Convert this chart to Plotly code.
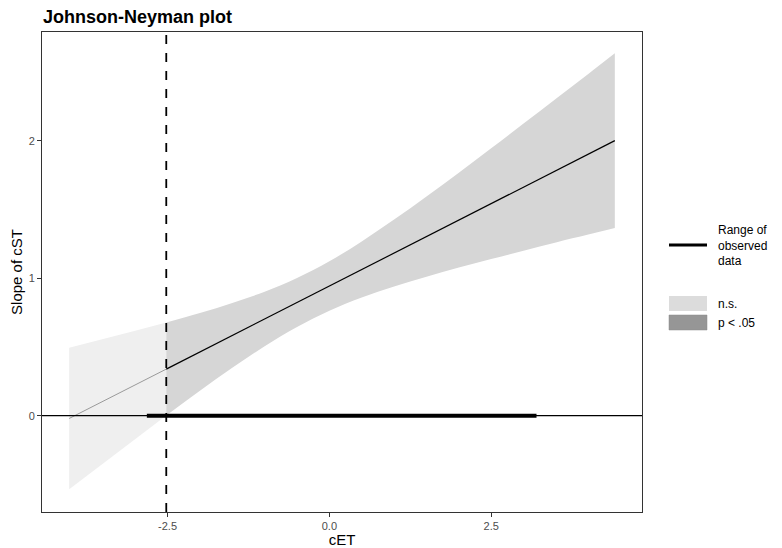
import plotly.graph_objects as go

# ---- data ----
x_ns = [-4.02, -3.5, -3.0, -2.52]
center_ns = [-0.020, 0.104, 0.224, 0.339]
upper_ns = [0.495, 0.556, 0.617, 0.678]
lower_ns = [-0.535, -0.348, -0.169, 0.001]

x_sig = [-2.52, -2.0, -1.5, -1.0, -0.5, 0.0, 0.5, 1.0, 1.5, 2.0, 2.5, 3.0, 3.5, 4.0, 4.41]
center_sig = [0.339, 0.464, 0.584, 0.703, 0.823, 0.943, 1.063, 1.183, 1.302, 1.422,
              1.542, 1.662, 1.782, 1.901, 2.000]
upper_sig = [0.678, 0.747, 0.820, 0.902, 1.001, 1.123, 1.267, 1.426, 1.594, 1.767,
             1.945, 2.124, 2.304, 2.485, 2.635]
lower_sig = [0.001, 0.181, 0.348, 0.505, 0.645, 0.763, 0.859, 0.940, 1.011, 1.077,
             1.139, 1.200, 1.260, 1.317, 1.365]

jn_point = -2.52
observed_range = [-2.82, 3.20]

x_ticks = [-2.5, 0.0, 2.5]
x_ticklabels = ["-2.5", "0.0", "2.5"]
y_ticks = [0, 1, 2]
y_ticklabels = ["0", "1", "2"]

NS_FILL = "#efefef"
SIG_FILL = "#d6d6d6"
FONT = "Liberation Sans, Arial, sans-serif"

fig = go.Figure()

# bands
fig.add_trace(go.Scatter(x=x_ns, y=lower_ns, mode="lines", line=dict(width=0),
                         showlegend=False, hoverinfo="skip"))
fig.add_trace(go.Scatter(x=x_ns, y=upper_ns, mode="lines", line=dict(width=0),
                         fill="tonexty", fillcolor=NS_FILL, showlegend=False, hoverinfo="skip"))
fig.add_trace(go.Scatter(x=x_sig, y=lower_sig, mode="lines", line=dict(width=0, shape="spline"),
                         showlegend=False, hoverinfo="skip"))
fig.add_trace(go.Scatter(x=x_sig, y=upper_sig, mode="lines", line=dict(width=0, shape="spline"),
                         fill="tonexty", fillcolor=SIG_FILL, showlegend=False, hoverinfo="skip"))

# zero line
fig.add_shape(type="line", xref="paper", yref="y", x0=0, x1=1, y0=0, y1=0,
              line=dict(color="black", width=1.2))

# observed range
fig.add_trace(go.Scatter(x=observed_range, y=[0, 0], mode="lines",
                         line=dict(color="black", width=4), showlegend=False))

# slope lines
fig.add_trace(go.Scatter(x=x_ns, y=center_ns, mode="lines",
                         line=dict(color="#9a9a9a", width=1), showlegend=False))
fig.add_trace(go.Scatter(x=x_sig, y=center_sig, mode="lines",
                         line=dict(color="black", width=1.2), showlegend=False))

# JN dashed line
fig.add_shape(type="line", xref="x", yref="paper", x0=jn_point, x1=jn_point, y0=0, y1=1,
              line=dict(color="black", width=1.8, dash="dash"))

# ---- legend (drawn in paper coordinates; window pixel positions) ----
W, H, L, T = 600.0, 480.0, 42.0, 32.0
def px(xp):
    return (xp - L) / W
def py(yp):
    return (T + H - yp) / H

fig.add_shape(type="line", xref="paper", yref="paper", x0=px(669), x1=px(707),
              y0=py(245), y1=py(245), line=dict(color="black", width=3))
fig.add_annotation(xref="paper", yref="paper", x=px(716), y=py(245), xanchor="left",
                   yanchor="middle", align="left", showarrow=False,
                   text="Range of<br>observed<br>data", font=dict(family=FONT, size=12, color="black"))
fig.add_shape(type="rect", xref="paper", yref="paper", x0=px(669), x1=px(707),
              y0=py(311), y1=py(296), line=dict(width=0), fillcolor="#dcdcdc")
fig.add_shape(type="rect", xref="paper", yref="paper", x0=px(669), x1=px(707),
              y0=py(330), y1=py(315), line=dict(width=0.5, color="#888888"), fillcolor="#969696")
fig.add_annotation(xref="paper", yref="paper", x=px(716), y=py(303.5), xanchor="left",
                   yanchor="middle", showarrow=False, text="n.s.",
                   font=dict(family=FONT, size=12, color="black"))
fig.add_annotation(xref="paper", yref="paper", x=px(716), y=py(322.5), xanchor="left",
                   yanchor="middle", showarrow=False, text="p < .05",
                   font=dict(family=FONT, size=12, color="black"))

axis_common = dict(showgrid=False, zeroline=False, showline=True, mirror=True, automargin=False,
                   linecolor="#333333", linewidth=1, ticks="outside", ticklen=4,
                   tickcolor="#333333", tickfont=dict(family=FONT, size=11, color="#4d4d4d"))

# page body has an 8px margin, so the figure is 8px smaller and margins shifted
fig.update_layout(
    width=774, height=540,
    margin=dict(l=34, r=140, t=24, b=36, autoexpand=False),
    paper_bgcolor="white", plot_bgcolor="white",
    showlegend=False,
    title=dict(text="<b>Johnson-Neyman plot</b>", x=px(43), xanchor="left", xref="paper",
               y=1 - 9 / 540, yanchor="middle", automargin=False,
               font=dict(family=FONT, size=18, color="black")),
    xaxis=dict(range=[-4.44, 4.83], tickvals=x_ticks, ticktext=x_ticklabels,
               title=dict(text="cET", font=dict(family=FONT, size=15, color="black"), standoff=0),
               **axis_common),
    yaxis=dict(range=[-0.70, 2.79], tickvals=y_ticks, ticktext=y_ticklabels,
               title=dict(text="Slope of cST", font=dict(family=FONT, size=15, color="black"), standoff=6),
               **axis_common),
)

fig.write_html("out.html")
